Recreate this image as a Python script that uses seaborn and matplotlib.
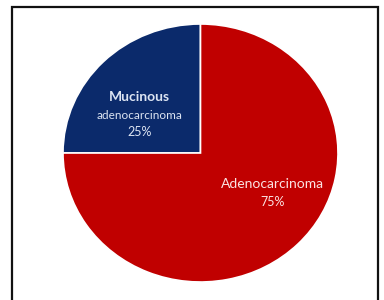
"""Pie chart of adenocarcinoma subtypes."""
import matplotlib.pyplot as plt
import numpy as np
import seaborn as sns
from matplotlib.patches import Rectangle

categories = ["Mucinous adenocarcinoma", "Adenocarcinoma"]
shares = [25, 75]
colors = ["#0B2A6B", "#C00000"]

sns.set_theme(style="white")
plt.rcParams["font.family"] = ["Lato", "DejaVu Sans"]

fig = plt.figure(figsize=(3.84, 3.0), dpi=100)
fig.patches.append(Rectangle((12 / 384, -0.05), 366 / 384, 1 - 7 / 300 + 0.05,
                             transform=fig.transFigure, fill=False,
                             edgecolor="#111111", linewidth=1.6))

ax = fig.add_axes([63 / 384, 18 / 300, 275 / 384, 258 / 300])
wedges, _ = ax.pie(shares, colors=colors, startangle=90, counterclock=True,
                   wedgeprops=dict(edgecolor="white", linewidth=1.2))
ax.set_aspect("auto")
ax.set_xlim(-1, 1)
ax.set_ylim(-1, 1)


def place(i, r, dang):
    w = wedges[i]
    ang = np.deg2rad((w.theta1 + w.theta2) / 2 + dang)
    return r * np.cos(ang), r * np.sin(ang)


txt_blue = "#DCE4F2"
x, y = place(0, 0.55, 9)
ax.text(x, y + 0.11, "Mucinous", ha="center", va="center", color=txt_blue,
        fontsize=10, fontweight="bold")
ax.text(x, y - 0.03, "adenocarcinoma", ha="center", va="center", color=txt_blue,
        fontsize=8.5)
ax.text(x, y - 0.16, f"{shares[0]}%", ha="center", va="center", color=txt_blue,
        fontsize=9)

txt_red = "#FBE3E3"
x, y = place(1, 0.6, 16)
ax.text(x, y + 0.05, "Adenocarcinoma", ha="center", va="center", color=txt_red,
        fontsize=10)
ax.text(x, y - 0.09, f"{shares[1]}%", ha="center", va="center", color=txt_red,
        fontsize=9)

fig.savefig("out.png", dpi=100)
